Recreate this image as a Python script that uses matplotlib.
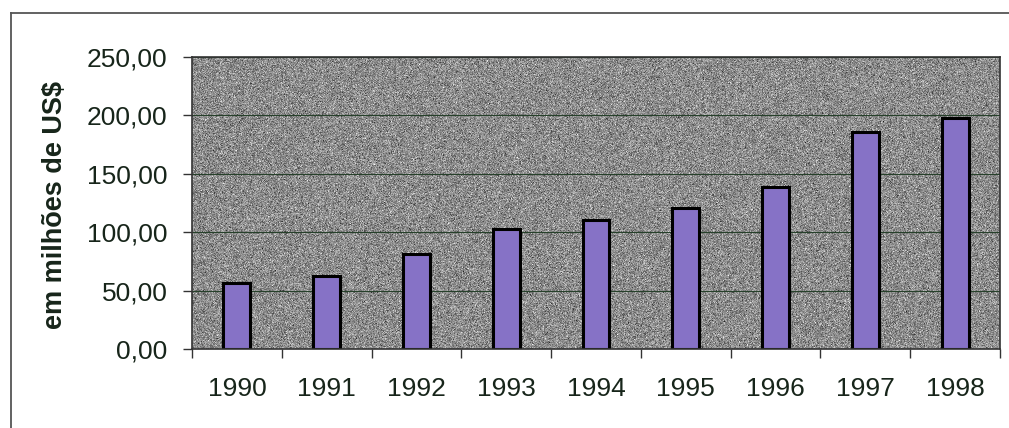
import numpy as np
import matplotlib.pyplot as plt
from matplotlib.lines import Line2D

# dados (milhões de US$)
anos = ['1990', '1991', '1992', '1993', '1994', '1995', '1996', '1997', '1998']
valores = [56.5, 62.5, 81.5, 103.0, 110.5, 121.0, 139.0, 186.0, 197.5]
yticks = [0, 50, 100, 150, 200, 250]

plt.rcParams['font.family'] = ['Liberation Sans', 'DejaVu Sans']
cor_texto = '#17251a'

fig = plt.figure(figsize=(10.09, 4.28), dpi=100)
ax = fig.add_axes([192/1009, 1 - 349/428, 808/1009, 292/428])

# moldura externa (so aparecem a borda de cima e a da esquerda)
topo = 1 - 13/428
esq = 11/1009
fig.lines.append(Line2D([esq, 1.0], [topo, topo], transform=fig.transFigure,
                        color='#555555', linewidth=1.3))
fig.lines.append(Line2D([esq, esq], [0.0, topo], transform=fig.transFigure,
                        color='#555555', linewidth=1.3))

# fundo cinza granulado da area de plotagem
rng = np.random.default_rng(3)
grao = np.clip(rng.normal(0.55, 0.11, (300, 820)), 0, 1)
ax.imshow(grao, cmap='gray', vmin=0, vmax=1, extent=[-0.5, 8.5, 0, 250],
          aspect='auto', zorder=0, interpolation='nearest')

x = np.arange(len(anos))
ax.bar(x, valores, width=0.3, color='#8672c6', edgecolor='black',
       linewidth=2.2, zorder=3)

ax.set_xlim(-0.5, 8.5)
ax.set_ylim(0, 250)
ax.set_yticks(yticks)
ax.set_yticklabels([f'{v:.2f}'.replace('.', ',') for v in yticks])
ax.yaxis.grid(True, color='#26402a', linewidth=0.8, zorder=1)
ax.set_axisbelow(False)

# ticks nas divisas das categorias, rotulos no centro
ax.set_xticks(np.arange(-0.5, 9, 1))
ax.set_xticklabels([])
ax.set_xticks(x, minor=True)
ax.set_xticklabels(anos, minor=True)
ax.tick_params(axis='x', which='major', direction='out', length=6.5,
               width=1.0, color='#333333')
ax.tick_params(axis='x', which='minor', length=0, pad=20, labelsize=19,
               labelcolor=cor_texto)
ax.tick_params(axis='y', direction='out', length=6.5, width=1.0,
               color='#333333', pad=11, labelsize=19, labelcolor=cor_texto)

for s in ax.spines.values():
    s.set_color('#333333')
    s.set_linewidth(1.2)
    s.set_zorder(4)

fig.text(55/1009, 1 - 205/428, 'em milhões de US$', rotation=90,
         ha='center', va='center', fontsize=19.5, fontweight='bold',
         color=cor_texto)

fig.savefig('out.png', dpi=100)
